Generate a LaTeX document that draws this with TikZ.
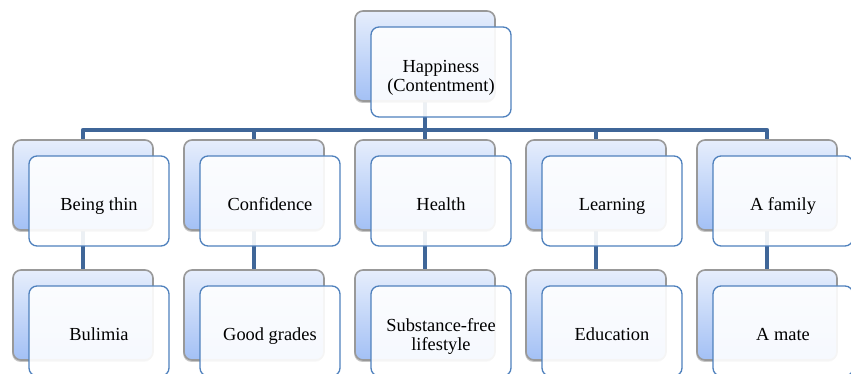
\documentclass[tikz,border=0pt]{standalone}
\usepackage{fontspec}
\setmainfont{Liberation Serif}
\usetikzlibrary{shadows,backgrounds}
\definecolor{barblue}{HTML}{3F6698}
\definecolor{edgeblue}{HTML}{4F81BD}
\definecolor{backtop}{HTML}{E6EEFC}
\definecolor{backbot}{HTML}{A3C0F5}
% struts keep the labels a little below the middle of their boxes
\newcommand{\topstrut}{\rule{0pt}{18.5pt}}
\newcommand{\botstrut}{\rule[-3.5pt]{0pt}{0pt}}
\begin{document}
\begin{tikzpicture}[x=0.75pt,y=-0.75pt,
		backbox/.style={rectangle,rounded corners=6pt,minimum width=105pt,minimum height=67.5pt,
			draw=gray!80,line width=1.2pt,top color=backtop,bottom color=backbot,
			drop shadow={shadow xshift=-0.6pt,shadow yshift=-1.4pt,opacity=.45}},
		frontbox/.style={rectangle,rounded corners=6pt,minimum width=105pt,minimum height=67.5pt,
			draw=edgeblue,line width=1pt,fill=white,fill opacity=.9,text opacity=1,
			align=center,font=\fontsize{13.8}{13.6}\selectfont},
		conn/.style={draw=barblue,line width=3.6pt,line join=round}]
	\useasboundingbox (0,0) rectangle (851,374);
	\node[backbox] (top) at (425,56) {};
	\node[frontbox] (ftop) at (441,72) {\topstrut Happiness\\(Contentment)\botstrut};
	\foreach \i/\x/\up/\down in {1/83/Being thin/Bulimia,
			2/254/Confidence/Good grades,
			3/425/Health/Substance-free\\lifestyle,
			4/596/Learning/Education,
			5/767/A family/A mate}{
		\node[backbox] (a\i) at (\x,185) {};
		\node[frontbox] (fa\i) at (\x+16,201) {\topstrut\up\botstrut};
		\node[backbox] (b\i) at (\x,315) {};
		\node[frontbox] (fb\i) at (\x+16,331) {\topstrut\down\botstrut};
	}
	\begin{scope}[on background layer]
		\coordinate (bus) at (425,130);
		\draw[conn] (top.south) -- (top.south |- bus);
		\draw[conn] (a1.north) -- (a1.north |- bus) -- (a5.north |- bus) -- (a5.north);
		\foreach \i in {2,3,4}
			\draw[conn] (a\i.north) -- (a\i.north |- bus);
		\foreach \i in {1,...,5}
			\draw[conn] (a\i.south) -- (b\i.north);
	\end{scope}
\end{tikzpicture}
\end{document}
